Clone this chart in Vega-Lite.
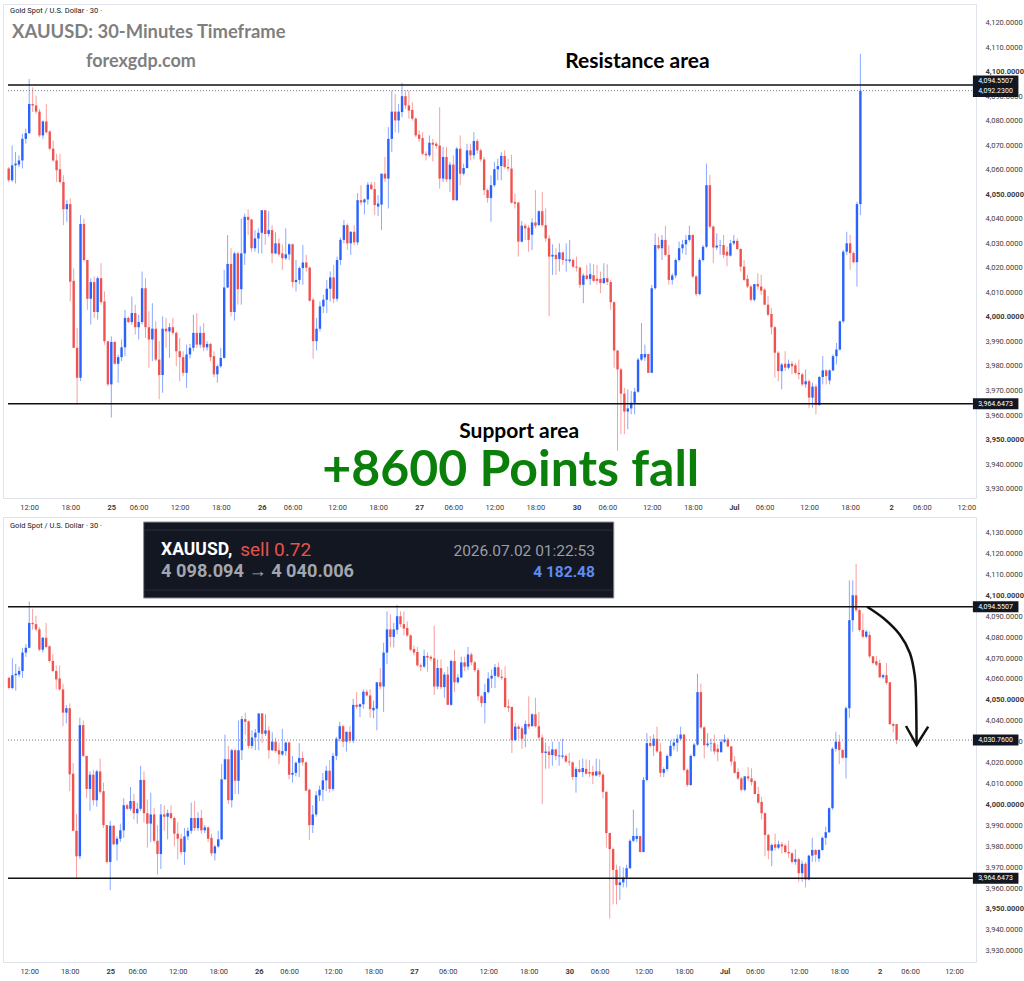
{
"$schema":"https://vega.github.io/schema/vega-lite/v6.json",
"padding":{"left":2,"top":3,"right":0,"bottom":0},
"background":"white",
"spacing":3,
"config":{"view":{"stroke":"#e0e3eb","strokeWidth":1},"axis":{"grid":false,"ticks":false,"domain":false,"labelFont":"Roboto","labelFontSize":7.5,"labelColor":"#3c3c3c","labelOverlap":false,"zindex":0}},
"datasets":{"c":[
{"k":1,"o":4060.5,"h":4061.1,"l":4055.0,"c":4055.7,"s":"a"},
{"k":2,"o":4055.7,"h":4069.9,"l":4055.0,"c":4061.8,"s":"a"},
{"k":3,"o":4061.8,"h":4067.2,"l":4054.4,"c":4062.5,"s":"a"},
{"k":4,"o":4062.1,"h":4065.9,"l":4061.1,"c":4063.8,"s":"a"},
{"k":5,"o":4063.8,"h":4074.7,"l":4060.5,"c":4072.6,"s":"a"},
{"k":6,"o":4072.6,"h":4076.7,"l":4070.6,"c":4074.9,"s":"a"},
{"k":7,"o":4074.9,"h":4097.0,"l":4074.7,"c":4086.8,"s":"a"},
{"k":8,"o":4086.8,"h":4093.6,"l":4083.5,"c":4086.2,"s":"a"},
{"k":9,"o":4086.2,"h":4090.2,"l":4082.8,"c":4083.7,"s":"a"},
{"k":10,"o":4083.7,"h":4084.8,"l":4073.3,"c":4074.0,"s":"a"},
{"k":11,"o":4074.0,"h":4080.1,"l":4072.6,"c":4079.7,"s":"a"},
{"k":12,"o":4079.7,"h":4086.8,"l":4074.7,"c":4075.3,"s":"a"},
{"k":13,"o":4075.6,"h":4076.0,"l":4067.9,"c":4068.6,"s":"a"},
{"k":14,"o":4068.6,"h":4071.9,"l":4063.2,"c":4063.8,"s":"a"},
{"k":15,"o":4063.8,"h":4066.5,"l":4055.0,"c":4059.8,"s":"a"},
{"k":16,"o":4060.2,"h":4066.5,"l":4054.4,"c":4055.0,"s":"a"},
{"k":17,"o":4055.0,"h":4057.7,"l":4037.4,"c":4043.9,"s":"a"},
{"k":18,"o":4043.9,"h":4047.6,"l":4038.8,"c":4046.0,"s":"a"},
{"k":19,"o":4046.0,"h":4048.3,"l":4006.3,"c":4014.4,"s":"a"},
{"k":20,"o":4014.7,"h":4019.8,"l":3987.4,"c":3987.4,"s":"a"},
{"k":21,"o":3987.4,"h":3995.5,"l":3964.4,"c":3975.2,"s":"a"},
{"k":22,"o":3975.2,"h":4041.5,"l":3973.8,"c":4037.9,"s":"a"},
{"k":23,"o":4037.9,"h":4040.1,"l":4022.6,"c":4023.2,"s":"a"},
{"k":24,"o":4023.2,"h":4023.2,"l":4002.9,"c":4007.4,"s":"a"},
{"k":25,"o":4007.4,"h":4015.8,"l":3996.9,"c":4014.2,"s":"a"},
{"k":26,"o":4014.2,"h":4016.5,"l":3999.5,"c":4002.0,"s":"a"},
{"k":27,"o":4002.0,"h":4016.5,"l":3998.9,"c":4015.8,"s":"a"},
{"k":28,"o":4015.8,"h":4021.9,"l":4005.0,"c":4006.0,"s":"a"},
{"k":29,"o":4006.3,"h":4010.4,"l":3988.7,"c":3990.1,"s":"a"},
{"k":30,"o":3990.1,"h":3990.1,"l":3971.8,"c":3972.5,"s":"a"},
{"k":31,"o":3972.5,"h":3992.1,"l":3959.0,"c":3989.8,"s":"a"},
{"k":32,"o":3989.8,"h":3990.1,"l":3980.6,"c":3980.9,"s":"a"},
{"k":33,"o":3980.9,"h":3984.7,"l":3973.2,"c":3983.6,"s":"a"},
{"k":34,"o":3983.6,"h":3990.8,"l":3982.0,"c":3987.6,"s":"a"},
{"k":35,"o":3987.6,"h":4002.9,"l":3984.0,"c":3999.6,"s":"a"},
{"k":36,"o":3999.6,"h":4000.2,"l":3997.5,"c":3997.9,"s":"a"},
{"k":37,"o":3997.9,"h":4008.3,"l":3996.9,"c":4001.6,"s":"a"},
{"k":38,"o":4001.6,"h":4005.0,"l":3992.8,"c":3995.8,"s":"a"},
{"k":39,"o":3995.8,"h":4000.9,"l":3990.8,"c":3997.9,"s":"a"},
{"k":40,"o":3997.9,"h":4018.5,"l":3996.9,"c":4011.7,"s":"a"},
{"k":41,"o":4011.7,"h":4015.8,"l":3991.4,"c":3995.8,"s":"a"},
{"k":42,"o":3995.8,"h":4002.3,"l":3979.3,"c":3990.8,"s":"a"},
{"k":43,"o":3990.8,"h":4005.6,"l":3982.0,"c":3995.2,"s":"a"},
{"k":44,"o":3995.2,"h":3998.2,"l":3981.9,"c":3982.6,"s":"a"},
{"k":45,"o":3982.6,"h":3990.1,"l":3966.4,"c":3976.3,"s":"a"},
{"k":46,"o":3976.3,"h":4000.2,"l":3969.1,"c":3995.2,"s":"a"},
{"k":47,"o":3995.2,"h":3999.6,"l":3987.4,"c":3994.1,"s":"a"},
{"k":48,"o":3994.1,"h":3997.5,"l":3983.3,"c":3995.8,"s":"a"},
{"k":49,"o":3995.8,"h":3999.6,"l":3992.8,"c":3993.5,"s":"a"},
{"k":50,"o":3993.5,"h":3994.1,"l":3979.9,"c":3986.0,"s":"a"},
{"k":51,"o":3986.0,"h":3991.4,"l":3973.8,"c":3983.6,"s":"a"},
{"k":52,"o":3983.6,"h":3986.0,"l":3975.9,"c":3977.2,"s":"a"},
{"k":53,"o":3977.2,"h":3988.7,"l":3971.1,"c":3984.7,"s":"a"},
{"k":54,"o":3984.7,"h":3989.0,"l":3983.0,"c":3987.4,"s":"a"},
{"k":55,"o":3987.4,"h":4000.9,"l":3986.0,"c":3993.5,"s":"a"},
{"k":56,"o":3993.5,"h":4001.6,"l":3987.4,"c":3988.7,"s":"a"},
{"k":57,"o":3988.7,"h":3996.2,"l":3987.4,"c":3993.5,"s":"a"},
{"k":58,"o":3993.5,"h":3997.5,"l":3986.0,"c":3987.6,"s":"a"},
{"k":59,"o":3987.6,"h":3990.1,"l":3986.3,"c":3989.0,"s":"a"},
{"k":60,"o":3989.0,"h":3989.4,"l":3982.0,"c":3983.6,"s":"a"},
{"k":61,"o":3984.0,"h":3986.0,"l":3975.5,"c":3976.6,"s":"a"},
{"k":62,"o":3976.6,"h":3980.6,"l":3973.2,"c":3979.9,"s":"a"},
{"k":63,"o":3979.9,"h":3987.4,"l":3979.3,"c":3983.3,"s":"a"},
{"k":64,"o":3983.3,"h":4019.2,"l":3983.0,"c":4012.0,"s":"a"},
{"k":65,"o":4012.0,"h":4033.4,"l":4011.7,"c":4021.6,"s":"a"},
{"k":66,"o":4021.6,"h":4028.0,"l":4000.2,"c":4002.0,"s":"a"},
{"k":67,"o":4002.0,"h":4026.6,"l":3998.5,"c":4025.9,"s":"a"},
{"k":68,"o":4025.9,"h":4026.6,"l":4005.0,"c":4011.3,"s":"a"},
{"k":69,"o":4011.3,"h":4040.1,"l":4005.0,"c":4025.9,"s":"a"},
{"k":70,"o":4025.9,"h":4042.2,"l":4021.2,"c":4040.8,"s":"a"},
{"k":71,"o":4040.8,"h":4043.9,"l":4033.4,"c":4039.5,"s":"a"},
{"k":72,"o":4039.7,"h":4040.1,"l":4026.6,"c":4028.0,"s":"a"},
{"k":73,"o":4028.0,"h":4035.4,"l":4026.6,"c":4032.0,"s":"a"},
{"k":74,"o":4032.0,"h":4036.1,"l":4025.9,"c":4034.3,"s":"a"},
{"k":75,"o":4034.3,"h":4043.5,"l":4025.9,"c":4043.5,"s":"a"},
{"k":76,"o":4043.5,"h":4043.6,"l":4029.3,"c":4033.8,"s":"a"},
{"k":77,"o":4033.8,"h":4043.1,"l":4032.7,"c":4035.4,"s":"a"},
{"k":78,"o":4035.4,"h":4037.4,"l":4021.9,"c":4025.9,"s":"a"},
{"k":79,"o":4025.9,"h":4034.5,"l":4025.5,"c":4030.0,"s":"a"},
{"k":80,"o":4030.0,"h":4032.0,"l":4024.6,"c":4025.5,"s":"a"},
{"k":81,"o":4025.9,"h":4029.6,"l":4019.2,"c":4023.9,"s":"a"},
{"k":82,"o":4023.9,"h":4036.1,"l":4023.2,"c":4025.5,"s":"a"},
{"k":83,"o":4025.5,"h":4030.0,"l":4023.2,"c":4029.6,"s":"a"},
{"k":84,"o":4029.6,"h":4030.0,"l":4012.0,"c":4014.2,"s":"a"},
{"k":85,"o":4014.2,"h":4023.2,"l":4010.4,"c":4015.1,"s":"a"},
{"k":86,"o":4015.1,"h":4020.5,"l":4013.4,"c":4019.9,"s":"a"},
{"k":87,"o":4019.9,"h":4029.3,"l":4013.1,"c":4022.2,"s":"a"},
{"k":88,"o":4022.2,"h":4025.3,"l":4018.5,"c":4020.1,"s":"a"},
{"k":89,"o":4020.1,"h":4020.5,"l":4006.3,"c":4006.6,"s":"a"},
{"k":90,"o":4007.0,"h":4007.7,"l":3983.0,"c":3990.1,"s":"a"},
{"k":91,"o":3990.1,"h":3999.6,"l":3986.3,"c":3995.2,"s":"a"},
{"k":92,"o":3995.2,"h":4006.3,"l":3994.1,"c":4004.3,"s":"a"},
{"k":93,"o":4004.3,"h":4009.0,"l":4001.6,"c":4007.0,"s":"a"},
{"k":94,"o":4007.0,"h":4015.1,"l":4001.6,"c":4011.5,"s":"a"},
{"k":95,"o":4011.5,"h":4018.5,"l":4006.3,"c":4016.1,"s":"a"},
{"k":96,"o":4016.1,"h":4021.2,"l":4005.6,"c":4007.4,"s":"a"},
{"k":97,"o":4007.4,"h":4024.6,"l":4006.3,"c":4023.2,"s":"a"},
{"k":98,"o":4023.2,"h":4032.3,"l":4021.2,"c":4031.4,"s":"a"},
{"k":99,"o":4031.4,"h":4039.5,"l":4030.0,"c":4037.4,"s":"a"},
{"k":100,"o":4037.4,"h":4038.1,"l":4027.3,"c":4030.0,"s":"a"},
{"k":101,"o":4030.0,"h":4035.0,"l":4025.3,"c":4034.7,"s":"a"},
{"k":102,"o":4034.7,"h":4037.4,"l":4029.3,"c":4030.4,"s":"a"},
{"k":103,"o":4030.4,"h":4050.5,"l":4029.3,"c":4047.6,"s":"a"},
{"k":104,"o":4047.6,"h":4053.7,"l":4045.6,"c":4046.7,"s":"a"},
{"k":105,"o":4046.7,"h":4048.3,"l":4041.8,"c":4047.9,"s":"a"},
{"k":106,"o":4047.9,"h":4055.0,"l":4045.8,"c":4053.9,"s":"a"},
{"k":107,"o":4053.9,"h":4055.0,"l":4051.7,"c":4052.1,"s":"a"},
{"k":108,"o":4052.1,"h":4055.0,"l":4041.5,"c":4045.6,"s":"a"},
{"k":109,"o":4045.0,"h":4049.6,"l":4041.2,"c":4046.2,"s":"a"},
{"k":110,"o":4045.8,"h":4058.4,"l":4035.4,"c":4058.4,"s":"a"},
{"k":111,"o":4058.4,"h":4065.2,"l":4055.0,"c":4056.4,"s":"a"},
{"k":112,"o":4056.4,"h":4077.4,"l":4044.2,"c":4072.6,"s":"a"},
{"k":113,"o":4072.6,"h":4092.3,"l":4067.2,"c":4083.7,"s":"a"},
{"k":114,"o":4083.7,"h":4090.9,"l":4075.3,"c":4080.1,"s":"a"},
{"k":115,"o":4080.1,"h":4086.8,"l":4075.1,"c":4083.7,"s":"a"},
{"k":116,"o":4083.5,"h":4095.4,"l":4081.4,"c":4090.0,"s":"a"},
{"k":117,"o":4090.0,"h":4092.3,"l":4084.8,"c":4086.2,"s":"a"},
{"k":118,"o":4086.2,"h":4092.3,"l":4080.8,"c":4084.1,"s":"a"},
{"k":119,"o":4084.4,"h":4087.5,"l":4080.1,"c":4080.8,"s":"a"},
{"k":120,"o":4080.8,"h":4081.4,"l":4073.3,"c":4074.0,"s":"a"},
{"k":121,"o":4074.3,"h":4076.0,"l":4071.3,"c":4072.6,"s":"a"},
{"k":122,"o":4072.9,"h":4075.3,"l":4065.9,"c":4066.5,"s":"a"},
{"k":123,"o":4066.5,"h":4067.5,"l":4063.8,"c":4065.9,"s":"a"},
{"k":124,"o":4065.9,"h":4074.0,"l":4065.2,"c":4071.0,"s":"a"},
{"k":125,"o":4071.0,"h":4072.6,"l":4063.4,"c":4070.2,"s":"a"},
{"k":126,"o":4070.6,"h":4071.3,"l":4068.6,"c":4069.7,"s":"a"},
{"k":127,"o":4069.9,"h":4085.5,"l":4052.3,"c":4056.4,"s":"a"},
{"k":128,"o":4056.4,"h":4069.3,"l":4055.0,"c":4065.2,"s":"a"},
{"k":129,"o":4065.2,"h":4069.3,"l":4055.0,"c":4056.1,"s":"a"},
{"k":130,"o":4056.1,"h":4063.2,"l":4051.0,"c":4062.1,"s":"a"},
{"k":131,"o":4062.1,"h":4065.9,"l":4047.6,"c":4047.6,"s":"a"},
{"k":132,"o":4047.6,"h":4069.3,"l":4047.2,"c":4068.6,"s":"a"},
{"k":133,"o":4068.6,"h":4074.0,"l":4053.7,"c":4058.4,"s":"a"},
{"k":134,"o":4058.4,"h":4062.5,"l":4057.7,"c":4060.7,"s":"a"},
{"k":135,"o":4060.7,"h":4070.6,"l":4060.5,"c":4067.9,"s":"a"},
{"k":136,"o":4067.9,"h":4070.6,"l":4063.8,"c":4065.9,"s":"a"},
{"k":137,"o":4065.9,"h":4075.3,"l":4064.2,"c":4071.7,"s":"a"},
{"k":138,"o":4071.7,"h":4072.6,"l":4066.5,"c":4067.9,"s":"a"},
{"k":139,"o":4067.9,"h":4068.6,"l":4063.2,"c":4064.2,"s":"a"},
{"k":140,"o":4064.2,"h":4065.2,"l":4049.6,"c":4051.7,"s":"a"},
{"k":141,"o":4051.7,"h":4052.3,"l":4046.6,"c":4048.5,"s":"a"},
{"k":142,"o":4048.5,"h":4057.7,"l":4038.8,"c":4053.7,"s":"a"},
{"k":143,"o":4053.7,"h":4063.2,"l":4053.0,"c":4060.2,"s":"a"},
{"k":144,"o":4060.2,"h":4064.5,"l":4055.7,"c":4061.5,"s":"a"},
{"k":145,"o":4061.5,"h":4067.2,"l":4055.7,"c":4065.6,"s":"a"},
{"k":146,"o":4065.6,"h":4067.9,"l":4060.5,"c":4061.1,"s":"a"},
{"k":147,"o":4061.1,"h":4064.5,"l":4059.4,"c":4060.5,"s":"a"},
{"k":148,"o":4060.5,"h":4066.1,"l":4046.2,"c":4046.6,"s":"a"},
{"k":149,"o":4046.9,"h":4050.3,"l":4044.2,"c":4046.2,"s":"a"},
{"k":150,"o":4046.6,"h":4046.9,"l":4024.6,"c":4030.7,"s":"a"},
{"k":151,"o":4030.7,"h":4039.1,"l":4030.4,"c":4037.2,"s":"a"},
{"k":152,"o":4037.2,"h":4038.1,"l":4031.4,"c":4036.1,"s":"a"},
{"k":153,"o":4036.4,"h":4037.4,"l":4026.6,"c":4031.4,"s":"a"},
{"k":154,"o":4033.5,"h":4040.2,"l":4027.3,"c":4038.5,"s":"a"},
{"k":155,"o":4038.5,"h":4051.7,"l":4036.1,"c":4037.2,"s":"a"},
{"k":156,"o":4037.4,"h":4043.5,"l":4037.2,"c":4043.1,"s":"a"},
{"k":157,"o":4043.1,"h":4051.0,"l":4036.8,"c":4037.4,"s":"a"},
{"k":158,"o":4037.4,"h":4044.2,"l":4030.7,"c":4032.0,"s":"a"},
{"k":159,"o":4032.0,"h":4033.4,"l":4000.2,"c":4024.6,"s":"a"},
{"k":160,"o":4024.6,"h":4029.6,"l":4017.1,"c":4025.3,"s":"a"},
{"k":161,"o":4025.3,"h":4028.0,"l":4017.1,"c":4023.6,"s":"a"},
{"k":162,"o":4023.6,"h":4030.0,"l":4018.5,"c":4026.3,"s":"a"},
{"k":163,"o":4026.3,"h":4026.6,"l":4021.2,"c":4023.2,"s":"a"},
{"k":164,"o":4023.0,"h":4030.0,"l":4018.5,"c":4023.4,"s":"a"},
{"k":165,"o":4022.8,"h":4031.4,"l":4021.9,"c":4023.4,"s":"a"},
{"k":166,"o":4023.2,"h":4023.9,"l":4019.9,"c":4020.5,"s":"a"},
{"k":167,"o":4020.5,"h":4024.6,"l":4018.5,"c":4020.1,"s":"a"},
{"k":168,"o":4020.1,"h":4020.5,"l":4011.7,"c":4013.1,"s":"a"},
{"k":169,"o":4013.1,"h":4017.8,"l":4005.6,"c":4016.9,"s":"a"},
{"k":170,"o":4016.9,"h":4021.2,"l":4015.1,"c":4015.5,"s":"a"},
{"k":171,"o":4015.5,"h":4021.9,"l":4013.1,"c":4017.4,"s":"a"},
{"k":172,"o":4017.0,"h":4021.5,"l":4014.0,"c":4014.7,"s":"a"},
{"k":173,"o":4015.5,"h":4021.2,"l":4013.1,"c":4014.7,"s":"a"},
{"k":174,"o":4015.5,"h":4018.5,"l":4009.7,"c":4013.8,"s":"a"},
{"k":175,"o":4013.8,"h":4021.9,"l":4013.4,"c":4015.8,"s":"a"},
{"k":176,"o":4015.8,"h":4021.5,"l":4013.1,"c":4014.2,"s":"a"},
{"k":177,"o":4014.2,"h":4015.1,"l":4002.9,"c":4006.0,"s":"a"},
{"k":178,"o":4006.0,"h":4006.3,"l":3979.3,"c":3986.3,"s":"a"},
{"k":179,"o":3986.3,"h":3986.5,"l":3945.4,"c":3978.6,"s":"a"},
{"k":180,"o":3978.6,"h":3979.3,"l":3952.2,"c":3968.7,"s":"a"},
{"k":181,"o":3968.7,"h":3971.1,"l":3952.2,"c":3961.4,"s":"a"},
{"k":182,"o":3961.4,"h":3970.5,"l":3954.2,"c":3962.7,"s":"a"},
{"k":183,"o":3962.7,"h":3969.8,"l":3960.3,"c":3965.0,"s":"a"},
{"k":184,"o":3965.0,"h":3971.1,"l":3960.3,"c":3969.5,"s":"a"},
{"k":185,"o":3969.5,"h":3983.3,"l":3969.1,"c":3982.6,"s":"a"},
{"k":186,"o":3982.6,"h":3997.5,"l":3982.0,"c":3984.9,"s":"a"},
{"k":187,"o":3983.5,"h":3988.7,"l":3982.0,"c":3984.9,"s":"a"},
{"k":188,"o":3984.9,"h":3984.9,"l":3977.2,"c":3977.2,"s":"a"},
{"k":189,"o":3977.2,"h":4013.1,"l":3977.2,"c":4011.7,"s":"a"},
{"k":190,"o":4011.7,"h":4034.1,"l":4011.1,"c":4029.3,"s":"a"},
{"k":191,"o":4029.3,"h":4032.7,"l":4027.3,"c":4028.0,"s":"a"},
{"k":192,"o":4028.0,"h":4033.4,"l":4023.2,"c":4031.4,"s":"a"},
{"k":193,"o":4031.4,"h":4037.2,"l":4024.6,"c":4025.3,"s":"a"},
{"k":194,"o":4025.3,"h":4029.3,"l":4013.1,"c":4015.1,"s":"a"},
{"k":195,"o":4015.1,"h":4017.8,"l":4013.1,"c":4016.9,"s":"a"},
{"k":196,"o":4016.9,"h":4023.9,"l":4015.8,"c":4023.2,"s":"a"},
{"k":197,"o":4023.2,"h":4030.7,"l":4022.6,"c":4028.0,"s":"a"},
{"k":198,"o":4028.0,"h":4031.4,"l":4025.9,"c":4029.6,"s":"a"},
{"k":199,"o":4029.6,"h":4033.4,"l":4025.3,"c":4031.4,"s":"a"},
{"k":200,"o":4031.4,"h":4037.2,"l":4030.7,"c":4033.4,"s":"a"},
{"k":201,"o":4033.4,"h":4033.7,"l":4015.8,"c":4016.5,"s":"a"},
{"k":202,"o":4016.5,"h":4017.1,"l":4008.4,"c":4009.3,"s":"a"},
{"k":203,"o":4009.3,"h":4023.9,"l":4008.8,"c":4023.2,"s":"a"},
{"k":204,"o":4023.2,"h":4029.3,"l":4022.6,"c":4028.6,"s":"a"},
{"k":205,"o":4028.6,"h":4062.5,"l":4028.0,"c":4053.7,"s":"a"},
{"k":206,"o":4053.7,"h":4057.8,"l":4036.1,"c":4036.8,"s":"a"},
{"k":207,"o":4036.8,"h":4037.4,"l":4021.9,"c":4028.3,"s":"a"},
{"k":208,"o":4028.3,"h":4034.1,"l":4027.3,"c":4029.1,"s":"a"},
{"k":209,"o":4029.1,"h":4031.4,"l":4025.3,"c":4029.3,"s":"a"},
{"k":210,"o":4029.3,"h":4033.4,"l":4023.9,"c":4025.3,"s":"a"},
{"k":211,"o":4026.6,"h":4028.7,"l":4020.6,"c":4025.0,"s":"a"},
{"k":212,"o":4025.0,"h":4031.4,"l":4024.6,"c":4030.0,"s":"a"},
{"k":213,"o":4030.0,"h":4033.4,"l":4029.3,"c":4031.0,"s":"a"},
{"k":214,"o":4031.0,"h":4032.0,"l":4027.3,"c":4027.7,"s":"a"},
{"k":215,"o":4027.7,"h":4028.0,"l":4018.5,"c":4020.5,"s":"a"},
{"k":216,"o":4020.5,"h":4023.2,"l":4014.7,"c":4015.1,"s":"a"},
{"k":217,"o":4015.5,"h":4017.2,"l":4011.7,"c":4012.4,"s":"a"},
{"k":218,"o":4012.4,"h":4013.1,"l":4006.3,"c":4007.0,"s":"a"},
{"k":219,"o":4007.0,"h":4013.4,"l":4006.3,"c":4013.4,"s":"a"},
{"k":220,"o":4013.4,"h":4017.8,"l":4011.1,"c":4012.4,"s":"a"},
{"k":221,"o":4012.4,"h":4017.2,"l":4009.0,"c":4010.7,"s":"a"},
{"k":222,"o":4011.1,"h":4011.7,"l":4004.7,"c":4005.0,"s":"a"},
{"k":223,"o":4005.0,"h":4008.4,"l":4000.2,"c":4000.9,"s":"a"},
{"k":224,"o":4001.2,"h":4003.6,"l":3992.8,"c":3995.8,"s":"a"},
{"k":225,"o":3995.8,"h":3996.2,"l":3975.2,"c":3985.4,"s":"a"},
{"k":226,"o":3985.4,"h":3986.0,"l":3973.8,"c":3977.9,"s":"a"},
{"k":227,"o":3977.9,"h":3981.3,"l":3970.5,"c":3980.6,"s":"a"},
{"k":228,"o":3980.9,"h":3986.0,"l":3977.9,"c":3979.3,"s":"a"},
{"k":229,"o":3979.3,"h":3982.6,"l":3978.6,"c":3980.9,"s":"a"},
{"k":230,"o":3980.9,"h":3982.0,"l":3976.6,"c":3979.9,"s":"a"},
{"k":231,"o":3980.3,"h":3981.3,"l":3976.6,"c":3977.2,"s":"a"},
{"k":232,"o":3977.2,"h":3982.6,"l":3974.5,"c":3976.6,"s":"a"},
{"k":233,"o":3976.6,"h":3977.2,"l":3971.8,"c":3972.5,"s":"a"},
{"k":234,"o":3972.5,"h":3978.6,"l":3971.1,"c":3973.8,"s":"a"},
{"k":235,"o":3973.8,"h":3974.5,"l":3963.0,"c":3967.1,"s":"a"},
{"k":236,"o":3967.1,"h":3973.2,"l":3963.0,"c":3971.6,"s":"a"},
{"k":237,"o":3971.6,"h":3972.5,"l":3960.3,"c":3964.1,"s":"a"},
{"k":238,"o":3964.1,"h":3975.9,"l":3963.7,"c":3975.5,"s":"a"},
{"k":239,"o":3975.5,"h":3984.0,"l":3972.5,"c":3978.2,"s":"a"},
{"k":240,"o":3978.2,"h":3978.6,"l":3972.5,"c":3975.9,"s":"a"},
{"k":241,"o":3974.1,"h":3978.6,"l":3972.5,"c":3978.2,"s":"a"},
{"k":242,"o":3978.2,"h":3984.7,"l":3977.9,"c":3984.0,"s":"a"},
{"k":243,"o":3984.0,"h":3989.4,"l":3980.6,"c":3986.7,"s":"a"},
{"k":244,"o":3986.7,"h":3998.5,"l":3986.3,"c":3998.2,"s":"a"},
{"k":245,"o":3998.2,"h":4027.3,"l":3997.5,"c":4026.6,"s":"a"},
{"k":246,"o":4026.6,"h":4034.7,"l":4025.3,"c":4030.0,"s":"a"},
{"k":247,"o":4030.0,"h":4033.4,"l":4019.2,"c":4026.0,"s":"a"},
{"k":248,"o":4026.0,"h":4026.6,"l":4021.9,"c":4022.3,"s":"a"},
{"k":249,"o":4022.3,"h":4046.9,"l":4012.4,"c":4046.0,"s":"a"},
{"k":250,"o":4046.0,"h":4107.2,"l":4041.5,"c":4092.2,"s":"t"},
{"k":250,"o":4046.0,"h":4107.1,"l":4041.5,"c":4088.1,"s":"b"},
{"k":251,"o":4088.1,"h":4107.1,"l":4082.6,"c":4100.0,"s":"b"},
{"k":252,"o":4100.0,"h":4115.0,"l":4092.1,"c":4092.9,"s":"b"},
{"k":253,"o":4092.9,"h":4093.7,"l":4082.6,"c":4083.4,"s":"b"},
{"k":254,"o":4083.4,"h":4091.3,"l":4079.4,"c":4080.2,"s":"b"},
{"k":255,"o":4080.2,"h":4083.4,"l":4079.4,"c":4082.6,"s":"b"},
{"k":256,"o":4081.0,"h":4082.6,"l":4070.0,"c":4070.8,"s":"b"},
{"k":257,"o":4070.8,"h":4071.0,"l":4067.0,"c":4067.6,"s":"b"},
{"k":258,"o":4068.5,"h":4071.0,"l":4066.0,"c":4066.8,"s":"b"},
{"k":259,"o":4067.6,"h":4069.2,"l":4060.5,"c":4060.8,"s":"b"},
{"k":260,"o":4060.8,"h":4062.5,"l":4060.0,"c":4061.8,"s":"b"},
{"k":261,"o":4061.8,"h":4067.6,"l":4057.3,"c":4058.1,"s":"b"},
{"k":262,"o":4058.4,"h":4058.4,"l":4038.0,"c":4038.4,"s":"b"},
{"k":263,"o":4038.4,"h":4039.2,"l":4034.4,"c":4037.6,"s":"b"},
{"k":264,"o":4038.4,"h":4038.4,"l":4028.9,"c":4030.8,"s":"b"}
]},
"vconcat":[
{
"width":973,"height":494,
"layer":[
{"data":{"name":"c"},"transform":[{"filter":"datum.s != 'b'"}],
 "mark":{"type":"rule","strokeWidth":1,"opacity":0.55},
 "encoding":{
  "x":{"field":"k","type":"quantitative","title":null,"scale":{"domain":[0.797,282.34],"nice":false,"zero":false},
   "axis":{"title":null,"labelOverlap":false,"tickCount":60,
    "values":[7,19,31,39,51,63,75,84,97,109,121,131,143,155,167,176,189,201,213,222,235,247,259,268,281],
    "labelExpr":"['12:00','18:00','25','06:00','12:00','18:00','26','06:00','12:00','18:00','27','06:00','12:00','18:00','30','06:00','12:00','18:00','Jul','06:00','12:00','18:00','2','06:00','12:00'][indexof([7,19,31,39,51,63,75,84,97,109,121,131,143,155,167,176,189,201,213,222,235,247,259,268,281], datum.value)]",
    "labelFontWeight":{"condition":{"test":"indexof([31,75,121,167,213,259], datum.value) >= 0","value":"bold"},"value":"normal"},
    "labelPadding":5,"minExtent":14,"maxExtent":14,"labelFlush":false}},
  "y":{"field":"l","type":"quantitative","title":null,"scale":{"domain":[3926.18,4127.57],"nice":false,"zero":false},
   "axis":{"title":null,"labelOverlap":false,"tickCount":60,"orient":"right","values":[3930,3940,3950,3960,3970,3980,3990,4000,4010,4020,4030,4040,4050,4060,4070,4080,4090,4100,4110,4120],"format":",.4f","labelPadding":9,
    "labelFontWeight":{"condition":{"test":"datum.value % 50 === 0","value":"bold"},"value":"normal"}}},
  "y2":{"field":"h"},
  "color":{"condition":{"test":"datum.c >= datum.o","value":"#2962ff"},"value":"#ef5350"}}},
{"data":{"name":"c"},"transform":[{"filter":"datum.s != 'b'"}],
 "mark":{"type":"bar","width":2.4},
 "encoding":{
  "x":{"field":"k","type":"quantitative","title":null},
  "y":{"field":"o","type":"quantitative","title":null},
  "y2":{"field":"c"},
  "color":{"condition":{"test":"datum.c >= datum.o","value":"#2962ff"},"value":"#ef5350"}}},
{"data":{"values":[{"a":0.797,"b":282.9,"p":4094.5507},{"a":0.797,"b":282.9,"p":3964.6473}]},
 "mark":{"type":"rule","color":"#111111","strokeWidth":1.5},
 "encoding":{"x":{"field":"a","type":"quantitative","title":null},"x2":{"field":"b"},"y":{"field":"p","type":"quantitative","title":null}}},
{"data":{"values":[{"a":0.797,"b":282.9,"p":4092.23}]},
 "mark":{"type":"rule","color":"#787b86","strokeWidth":1,"strokeDash":[1,2]},
 "encoding":{"x":{"field":"a","type":"quantitative","title":null},"x2":{"field":"b"},"y":{"field":"p","type":"quantitative","title":null}}},
{"data":{"values":[{"a":282.9,"b":296.2,"p0":4093.94,"p1":4098.42},{"a":282.9,"b":296.2,"p0":4089.66,"p1":4094.14},{"a":282.9,"b":296.2,"p0":3962.41,"p1":3966.89}]},
 "mark":{"type":"rect","color":"#131722"},
 "encoding":{"x":{"field":"a","type":"quantitative","title":null},"x2":{"field":"b"},"y":{"field":"p0","type":"quantitative","title":null},"y2":{"field":"p1"}}},
{"data":{"values":[{"k":289.5,"p":4096.18,"t":"4,094.5507"},{"k":289.5,"p":4091.9,"t":"4,092.2300"},{"k":289.5,"p":3964.65,"t":"3,964.6473"}]},
 "mark":{"type":"text","color":"white","font":"Roboto","fontSize":7,"align":"center","baseline":"middle"},
 "encoding":{"x":{"field":"k","type":"quantitative","title":null},"y":{"field":"p","type":"quantitative","title":null},"text":{"field":"t"}}},
{"data":{"values":[{"k":1.4,"p":4124.92,"t":"Gold Spot / U.S. Dollar · 30 ·"}]},
 "mark":{"type":"text","color":"#131722","font":"Roboto","fontSize":7.5,"align":"left","baseline":"middle"},
 "encoding":{"x":{"field":"k","type":"quantitative","title":null},"y":{"field":"p","type":"quantitative","title":null},"text":{"field":"t"}}},
{"data":{"values":[{"k":2.0,"p":4116.16,"t":"XAUUSD: 30-Minutes Timeframe"}]},
 "mark":{"type":"text","color":"#7f7f7f","font":"Lato","fontWeight":"bold","fontSize":18.4,"align":"left","baseline":"middle"},
 "encoding":{"x":{"field":"k","type":"quantitative","title":null},"y":{"field":"p","type":"quantitative","title":null},"text":{"field":"t"}}},
{"data":{"values":[{"k":23.6,"p":4103.93,"t":"forexgdp.com"}]},
 "mark":{"type":"text","color":"#7f7f7f","font":"Lato","fontWeight":"bold","fontSize":18,"align":"left","baseline":"middle"},
 "encoding":{"x":{"field":"k","type":"quantitative","title":null},"y":{"field":"p","type":"quantitative","title":null},"text":{"field":"t"}}},
{"data":{"values":[{"k":184.82,"p":4103.93,"t":"Resistance area"},{"k":150.25,"p":3952.9,"t":"Support area"}]},
 "mark":{"type":"text","color":"#000000","font":"Lato","fontWeight":"bold","fontSize":21,"align":"center","baseline":"middle"},
 "encoding":{"x":{"field":"k","type":"quantitative","title":null},"y":{"field":"p","type":"quantitative","title":null},"text":{"field":"t"}}},
{"data":{"values":[{"k":147.79,"p":3937.1,"t":"+8600 Points fall"}]},
 "mark":{"type":"text","color":"#0a800a","font":"Lato","fontWeight":"bold","fontSize":50,"align":"center","baseline":"middle"},
 "encoding":{"x":{"field":"k","type":"quantitative","title":null},"y":{"field":"p","type":"quantitative","title":null},"text":{"field":"t"}}}
]
},
{
"width":973,"height":445,
"layer":[
{"data":{"name":"c"},"transform":[{"filter":"datum.s != 't'"}],
 "mark":{"type":"rule","strokeWidth":1,"opacity":0.55},
 "encoding":{
  "x":{"field":"k","type":"quantitative","title":null,"scale":{"domain":[0.707,286.04],"nice":false,"zero":false},
   "axis":{"title":null,"labelOverlap":false,"tickCount":60,
    "values":[7,19,31,39,51,63,75,84,97,109,121,131,143,155,167,176,189,201,213,222,235,247,259,268,281],
    "labelExpr":"['12:00','18:00','25','06:00','12:00','18:00','26','06:00','12:00','18:00','27','06:00','12:00','18:00','30','06:00','12:00','18:00','Jul','06:00','12:00','18:00','2','06:00','12:00'][indexof([7,19,31,39,51,63,75,84,97,109,121,131,143,155,167,176,189,201,213,222,235,247,259,268,281], datum.value)]",
    "labelFontWeight":{"condition":{"test":"indexof([31,75,121,167,213,259], datum.value) >= 0","value":"bold"},"value":"normal"},
    "labelPadding":5,"minExtent":14,"maxExtent":14,"labelFlush":false}},
  "y":{"field":"l","type":"quantitative","title":null,"scale":{"domain":[3924.63,4137.45],"nice":false,"zero":false},
   "axis":{"title":null,"labelOverlap":false,"tickCount":60,"orient":"right","values":[3930,3940,3950,3960,3970,3980,3990,4000,4010,4020,4030,4040,4050,4060,4070,4080,4090,4100,4110,4120,4130],"format":",.4f","labelPadding":9,
    "labelFontWeight":{"condition":{"test":"datum.value % 50 === 0","value":"bold"},"value":"normal"}}},
  "y2":{"field":"h"},
  "color":{"condition":{"test":"datum.c >= datum.o","value":"#2962ff"},"value":"#ef5350"}}},
{"data":{"name":"c"},"transform":[{"filter":"datum.s != 't'"}],
 "mark":{"type":"bar","width":2.4},
 "encoding":{
  "x":{"field":"k","type":"quantitative","title":null},
  "y":{"field":"o","type":"quantitative","title":null},
  "y2":{"field":"c"},
  "color":{"condition":{"test":"datum.c >= datum.o","value":"#2962ff"},"value":"#ef5350"}}},
{"data":{"values":[{"a":0.707,"b":286.6,"p":4094.5507},{"a":0.707,"b":286.6,"p":3964.6473}]},
 "mark":{"type":"rule","color":"#111111","strokeWidth":1.5},
 "encoding":{"x":{"field":"a","type":"quantitative","title":null},"x2":{"field":"b"},"y":{"field":"p","type":"quantitative","title":null}}},
{"data":{"values":[{"a":0.707,"b":286.6,"p":4030.76}]},
 "mark":{"type":"rule","color":"#787b86","strokeWidth":1,"strokeDash":[1,2]},
 "encoding":{"x":{"field":"a","type":"quantitative","title":null},"x2":{"field":"b"},"y":{"field":"p","type":"quantitative","title":null}}},
{"data":{"values":[{"a":286.6,"b":300.1,"p0":4091.92,"p1":4097.18},{"a":286.6,"b":300.1,"p0":4028.13,"p1":4033.39},{"a":286.6,"b":300.1,"p0":3962.02,"p1":3967.28}]},
 "mark":{"type":"rect","color":"#131722"},
 "encoding":{"x":{"field":"a","type":"quantitative","title":null},"x2":{"field":"b"},"y":{"field":"p0","type":"quantitative","title":null},"y2":{"field":"p1"}}},
{"data":{"values":[{"k":293.3,"p":4094.55,"t":"4,094.5507"},{"k":293.3,"p":4030.76,"t":"4,030.7600"},{"k":293.3,"p":3964.65,"t":"3,964.6473"}]},
 "mark":{"type":"text","color":"white","font":"Roboto","fontSize":7,"align":"center","baseline":"middle"},
 "encoding":{"x":{"field":"k","type":"quantitative","title":null},"y":{"field":"p","type":"quantitative","title":null},"text":{"field":"t"}}},
{"data":{"values":[{"k":1.3,"p":4133.14,"t":"Gold Spot / U.S. Dollar · 30 ·"}]},
 "mark":{"type":"text","color":"#131722","font":"Roboto","fontSize":7.5,"align":"left","baseline":"middle"},
 "encoding":{"x":{"field":"k","type":"quantitative","title":null},"y":{"field":"p","type":"quantitative","title":null},"text":{"field":"t"}}},
{"data":{"values":[{"a":40.9,"b":180.2,"p0":4098.7,"p1":4135.05}]},
 "mark":{"type":"rect","fill":"#131722","stroke":"#8a8d94","strokeWidth":1},
 "encoding":{"x":{"field":"a","type":"quantitative","title":null},"x2":{"field":"b"},"y":{"field":"p0","type":"quantitative","title":null},"y2":{"field":"p1"}}},
{"data":{"values":[{"a":41.3,"b":179.8,"p":4131.2},{"a":41.3,"b":179.8,"p":4102.5}]},
 "mark":{"type":"rule","color":"#2a2e39","strokeWidth":1},
 "encoding":{"x":{"field":"a","type":"quantitative","title":null},"x2":{"field":"b"},"y":{"field":"p","type":"quantitative","title":null}}},
{"data":{"values":[{"k":46.07,"p":4121.5,"t":"XAUUSD,"}]},
 "mark":{"type":"text","color":"#ffffff","font":"Roboto","fontWeight":"bold","fontSize":17.5,"align":"left","baseline":"middle"},
 "encoding":{"x":{"field":"k","type":"quantitative","title":null},"y":{"field":"p","type":"quantitative","title":null},"text":{"field":"t"}}},
{"data":{"values":[{"k":69.5,"p":4121.5,"t":"sell 0.72"}]},
 "mark":{"type":"text","color":"#e5534b","font":"Roboto","fontSize":19,"align":"left","baseline":"middle"},
 "encoding":{"x":{"field":"k","type":"quantitative","title":null},"y":{"field":"p","type":"quantitative","title":null},"text":{"field":"t"}}},
{"data":{"values":[{"k":46.07,"p":4111.3,"t":"4 098.094 → 4 040.006"}]},
 "mark":{"type":"text","color":"#a3a6ae","font":"Roboto","fontWeight":"bold","fontSize":18.2,"align":"left","baseline":"middle"},
 "encoding":{"x":{"field":"k","type":"quantitative","title":null},"y":{"field":"p","type":"quantitative","title":null},"text":{"field":"t"}}},
{"data":{"values":[{"k":174.61,"p":4121.3,"t":"2026.07.02 01:22:53"}]},
 "mark":{"type":"text","color":"#9a9da5","font":"Roboto","fontSize":15.5,"align":"right","baseline":"middle"},
 "encoding":{"x":{"field":"k","type":"quantitative","title":null},"y":{"field":"p","type":"quantitative","title":null},"text":{"field":"t"}}},
{"data":{"values":[{"k":174.61,"p":4111.3,"t":"4 182.48"}]},
 "mark":{"type":"text","color":"#5f8cf0","font":"Roboto","fontWeight":"bold","fontSize":15.5,"align":"right","baseline":"middle"},
 "encoding":{"x":{"field":"k","type":"quantitative","title":null},"y":{"field":"p","type":"quantitative","title":null},"text":{"field":"t"}}},
{"data":{"values":[{"o":1,"k":255.24,"p":4094.55},{"o":2,"k":260.14,"p":4089.0},{"o":3,"k":265.02,"p":4081.0},{"o":4,"k":267.95,"p":4072.3},{"o":5,"k":269.42,"p":4061.1},{"o":6,"k":269.71,"p":4053.1},{"o":7,"k":269.92,"p":4029.2}]},
 "mark":{"type":"line","color":"#111111","strokeWidth":2.5,"interpolate":"catmull-rom"},
 "encoding":{"x":{"field":"k","type":"quantitative","title":null},"y":{"field":"p","type":"quantitative","title":null},"order":{"field":"o"}}},
{"data":{"values":[{"o":1,"k":266.78,"p":4037.5},{"o":2,"k":269.92,"p":4028.4},{"o":3,"k":273.35,"p":4037.2}]},
 "mark":{"type":"line","color":"#111111","strokeWidth":2.5},
 "encoding":{"x":{"field":"k","type":"quantitative","title":null},"y":{"field":"p","type":"quantitative","title":null},"order":{"field":"o"}}}
]
}
]
}
